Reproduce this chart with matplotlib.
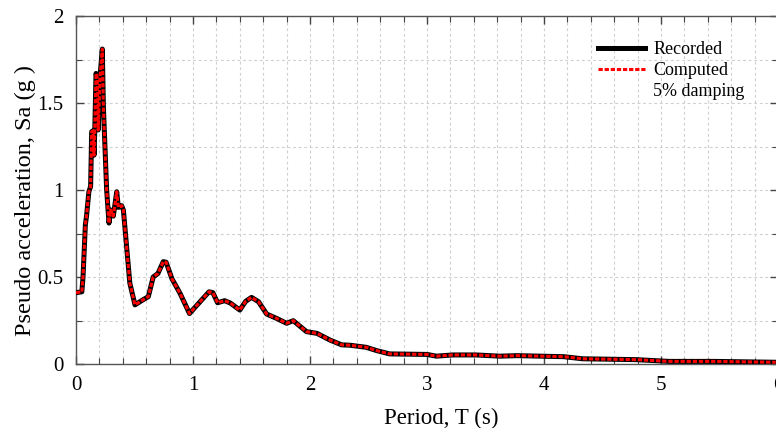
import numpy as np
import matplotlib.pyplot as plt
from matplotlib.lines import Line2D
from matplotlib.ticker import MultipleLocator

plt.rcParams['font.family'] = ['Liberation Serif', 'DejaVu Serif']

# periodo (s) e aceleracao espectral (g)
period = [0.0, 0.05, 0.06, 0.08, 0.09, 0.11, 0.125, 0.134, 0.145, 0.154,
          0.16, 0.171, 0.18, 0.19, 0.205, 0.225, 0.234, 0.262, 0.282, 0.296,
          0.319, 0.348, 0.362, 0.39, 0.405, 0.46, 0.504, 0.575, 0.618, 0.66,
          0.70, 0.746, 0.77, 0.82, 0.89, 0.97, 1.05, 1.137, 1.17, 1.21,
          1.27, 1.32, 1.40, 1.45, 1.50, 1.56, 1.63, 1.715, 1.80, 1.857,
          1.97, 2.06, 2.17, 2.27, 2.34, 2.48, 2.57, 2.68, 3.0, 3.08,
          3.22, 3.42, 3.62, 3.77, 3.97, 4.17, 4.33, 4.42, 4.79, 5.07,
          5.45, 5.98]
sa_recorded = [0.41, 0.415, 0.50, 0.80, 0.85, 0.99, 1.02, 1.335, 1.34, 1.20,
               1.33, 1.67, 1.65, 1.345, 1.65, 1.81, 1.48, 1.00, 0.81, 0.885,
               0.85, 0.99, 0.90, 0.91, 0.885, 0.465, 0.34, 0.37, 0.387, 0.50,
               0.52, 0.588, 0.585, 0.49, 0.405, 0.29, 0.35, 0.415, 0.41, 0.352,
               0.364, 0.35, 0.31, 0.36, 0.383, 0.358, 0.287, 0.262, 0.234, 0.249,
               0.186, 0.176, 0.138, 0.11, 0.108, 0.096, 0.077, 0.058, 0.055, 0.045,
               0.052, 0.052, 0.045, 0.048, 0.045, 0.042, 0.03, 0.029, 0.025, 0.015,
               0.015, 0.01]
sa_computed = list(sa_recorded)

fig = plt.figure(figsize=(7.76, 4.28), dpi=100)
ax = fig.add_axes([76/776, 64/428, 702/776, 348/428])

ax.plot(period, sa_recorded, color='black', lw=3.6, zorder=3)
ax.plot(period, sa_computed, color='#ff0000', lw=2.2, dashes=(1.4, 0.6), zorder=4)

ax.set_xlim(0, 6)
ax.set_ylim(0, 2)
ax.xaxis.set_major_locator(MultipleLocator(1))
ax.xaxis.set_minor_locator(MultipleLocator(0.2))
ax.yaxis.set_major_locator(MultipleLocator(0.5))
ax.yaxis.set_minor_locator(MultipleLocator(0.25))
ax.set_yticks([0, 0.5, 1, 1.5, 2])
ax.set_yticklabels(['0', '0.5', '1', '1.5', '2'])

ax.grid(True, which='both', color='#cfcfcf', ls=(0, (2.5, 2.5)), lw=0.8, zorder=0)
for s in ax.spines.values():
    s.set_color('#555555')
    s.set_linewidth(1.0)
ax.tick_params(which='both', direction='in', top=True, right=True, color='#444444')
ax.tick_params(which='major', length=6, width=1, labelsize=15, pad=9)
ax.tick_params(which='minor', length=4, width=0.8)

ax.set_xlabel('Period, T (s)', fontsize=16.5)
ax.set_ylabel('Pseudo acceleration, Sa (g )', fontsize=17.5)
ax.xaxis.set_label_coords((441 - 76) / 702, -0.125)
ax.yaxis.set_label_coords((36 - 76) / 702, 0.47)

handles = [Line2D([], [], color='black', lw=3.6),
           Line2D([], [], color='#ff0000', lw=2.2, dashes=(1.4, 0.6)),
           Line2D([], [], color='none')]
ax.legend(handles, ['Recorded', 'Computed', '5% damping'], loc='upper left',
          bbox_to_anchor=((591 - 76) / 702, (364 - 34) / 348), frameon=False,
          fontsize=13, handlelength=2.6, handletextpad=0.45, labelspacing=0.22,
          borderaxespad=0)

fig.savefig('out.png', dpi=100)
